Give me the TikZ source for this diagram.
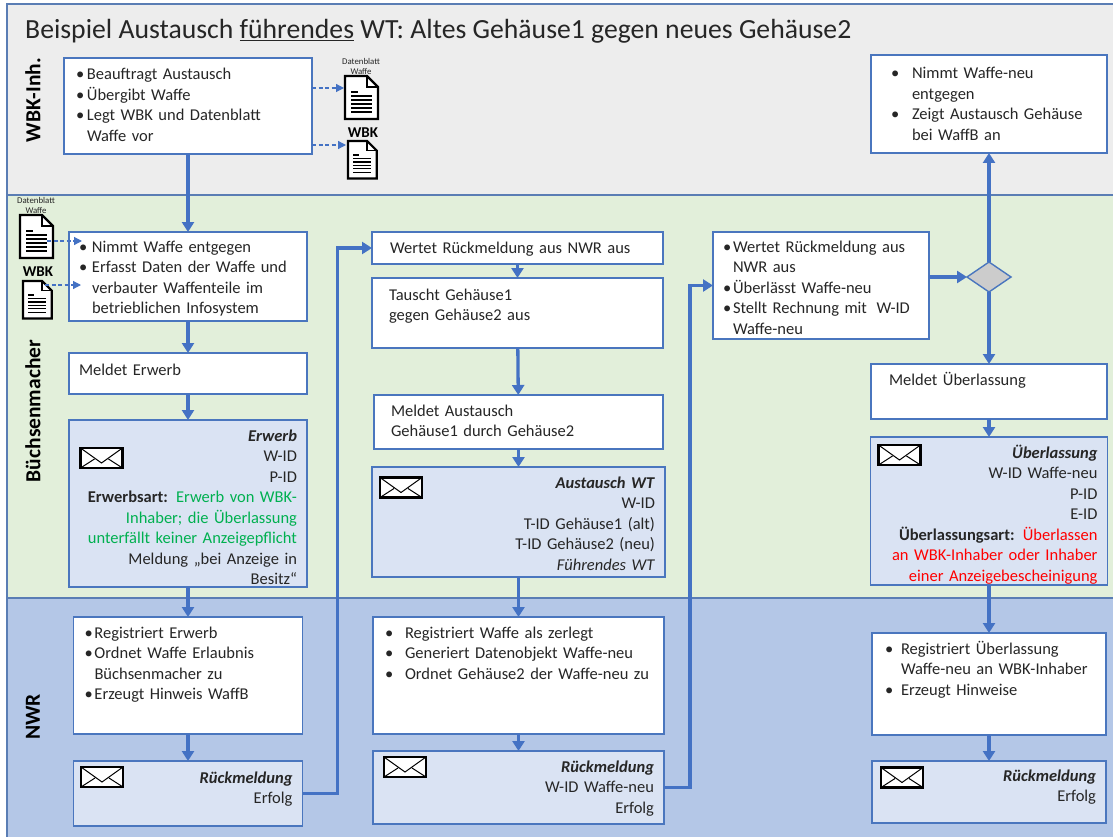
\documentclass[tikz,border=0pt]{standalone}
\usepackage{fontspec}
\setmainfont{Carlito}
\usetikzlibrary{positioning}
\usetikzlibrary{shapes.geometric}
\usetikzlibrary{arrows.meta}

\definecolor{laneline}{HTML}{5A7DB4}
\definecolor{boxline}{HTML}{4A76BE}
\definecolor{flowblue}{HTML}{4472C4}
\definecolor{lanegrey}{HTML}{EDEDED}
\definecolor{lanegreen}{HTML}{E2EFDA}
\definecolor{laneblue}{HTML}{B4C7E7}
\definecolor{msgblue}{HTML}{DAE3F3}
\definecolor{inktext}{HTML}{262626}
\definecolor{artgreen}{HTML}{00B050}

\newcommand{\bfirst}[1][10pt]{\hangindent=#1\hangafter=1\noindent\makebox[#1][l]{\textbullet}}
\newcommand{\bnext}[1][10pt]{\par\bfirst[#1]}

\tikzset{
    lane/.style={draw=laneline, line width=1.2pt},
    lanetitle/.style={rotate=90, text=black, font=\fontsize{21.5}{26}\selectfont\bfseries},
    flow/.style n args={4}{draw=boxline, line width=1.4pt, fill=white, outer sep=0pt, inner ysep=0pt,
        inner xsep=#3, text width={#1-2*#3}, text height=#4, text depth={#2-#4}, align=left,
        text=inktext, font=\fontsize{16.5}{20.5}\selectfont},
    msg/.style n args={3}{flow={#1}{#2}{10pt}{#3}, fill=msgblue, align=right},
    flowline/.style={draw=flowblue, line width=3.3pt, -{Triangle[width=12pt,length=10pt]}},
    docline/.style={draw=flowblue, line width=1.2pt, dash pattern=on 4pt off 2.5pt, -{Triangle[width=8pt,length=8pt]}},
    envelope/.style={draw=black, line width=2.2pt, fill=white, minimum width=42pt, minimum height=20pt, inner sep=0pt,
        path picture={
            \draw[black, line width=1pt] (path picture bounding box.north west) -- ([yshift=-5pt]path picture bounding box.center) -- (path picture bounding box.north east);
            \draw[black, line width=1pt] (path picture bounding box.south west) -- ([xshift=-7pt,yshift=-1pt]path picture bounding box.center);
            \draw[black, line width=1pt] (path picture bounding box.south east) -- ([xshift=7pt,yshift=-1pt]path picture bounding box.center);
        }},
    docicon/.pic={
        \draw[black, line width=2.2pt, fill=white, line join=miter] (0,0) -- (22,0) -- (33,11) -- (33,43) -- (0,43) -- cycle;
        \draw[black, line width=1.4pt] (22,0) -- (22,11) -- (33,11);
        \draw[black, line width=1.3pt] (6,16) -- (13,16);
        \foreach \docy in {20,24,28,32,36} {
            \draw[black, line width=1.3pt] (6,\docy) -- (27,\docy);
        }
    },
}

\begin{document}
\begin{tikzpicture}[x=1pt, y=-1pt]

    \useasboundingbox (0,0) rectangle (1113,837);
    \clip (0,0) rectangle (1113,837);

    % swim lanes
    \draw[lane, fill=lanegrey] (7,4) rectangle (1120,195);
    \draw[lane, fill=lanegreen] (7,195) rectangle (1120,598);
    \draw[lane, fill=laneblue] (7,598) rectangle (1120,845);
    \node[anchor=base west, inner sep=0pt, text=inktext, font=\fontsize{27.7}{30}\selectfont] (title) at (25,39)
        {Beispiel Austausch \underline{führendes} WT: Altes Gehäuse1 gegen neues Gehäuse2};
    \node[lanetitle] (lane-wbk) at (33,100) {WBK-Inh.};
    \node[lanetitle] (lane-bm) at (33,411) {Büchsenmacher};
    \node[lanetitle] (lane-nwr) at (33,717) {NWR};


    % first column
    \node[flow={248pt}{96pt}{12pt}{22pt}] (beauftragt) at (188,106)
        {\bfirst[11pt]Beauftragt Austausch
         \bnext[11pt]Übergibt Waffe
         \bnext[11pt]Legt WBK und Datenblatt\newline Waffe vor\par};
    \node[flow={238pt}{89pt}{10pt}{20pt}, below=78pt of beauftragt] (nimmt)
        {\bfirst[13pt]Nimmt Waffe entgegen
         \bnext[13pt]Erfasst Daten der Waffe und\newline verbauter Waffenteile im\newline betrieblichen Infosystem\par};
    \node[flow={238pt}{41pt}{10pt}{22pt}, below=32pt of nimmt] (meldeterwerb) {Meldet Erwerb};
    \node[msg={238pt}{167pt}{21pt}, below=26pt of meldeterwerb] (erwerb)
        {\textbf{\textit{Erwerb}}\\W-ID\\P-ID\\
         \textbf{Erwerbsart:} \textcolor{artgreen}{Erwerb von WBK-}\\
         \textcolor{artgreen}{Inhaber; die Überlassung}\\
         \textcolor{artgreen}{unterfällt keiner Anzeigepflicht}\\
         Meldung „bei Anzeige in\\Besitz“};
    \node[flow={229pt}{117pt}{11pt}{21pt}, below=30pt of erwerb] (regerwerb)
        {\bfirst[10pt]Registriert Erwerb
         \bnext[10pt]Ordnet Waffe Erlaubnis\newline Büchsenmacher zu
         \bnext[10pt]Erzeugt Hinweis WaffB\par};
    \node[msg={229pt}{65pt}{22pt}, below=27pt of regerwerb] (rueckerwerb)
        {\textbf{\textit{Rückmeldung}}\\Erfolg};

    \node[envelope] (env-erwerb) at (101.5,458) {};
    \node[envelope] (env-rueckerwerb) at (102,777) {};


    % second column
    \node[flow={291pt}{32pt}{18pt}{21pt}] (wertetnwr) at (517.5,248) {Wertet Rückmeldung aus NWR aus};
    \node[flow={291pt}{70pt}{17pt}{22pt}, below=14pt of wertetnwr] (tauscht)
        {Tauscht Gehäuse1\\gegen Gehäuse2 aus};
    \node[flow={289pt}{54pt}{17pt}{21pt}, below=47pt of tauscht, xshift=1pt] (meldetaus)
        {Meldet Austausch\\Gehäuse1 durch Gehäuse2};
    \node[msg={293pt}{110pt}{21pt}, below=18pt of meldetaus] (austausch)
        {\textbf{\textit{Austausch WT}}\\W-ID\\T-ID Gehäuse1 (alt)\\T-ID Gehäuse2 (neu)\\\textit{Führendes WT}};
    \node[flow={291pt}{117pt}{12pt}{21pt}, below=40pt of austausch] (regwaffe)
        {\bfirst[20pt]Registriert Waffe als zerlegt
         \bnext[20pt]Generiert Datenobjekt Waffe-neu
         \bnext[20pt]Ordnet Gehäuse2 der Waffe-neu zu\par};
    \node[msg={291pt}{73pt}{21pt}, below=17pt of regwaffe] (rueckwaffe)
        {\textbf{\textit{Rückmeldung}}\\W-ID Waffe-neu\\Erfolg};

    \node[envelope] (env-austausch) at (401,487.5) {};
    \node[envelope] (env-rueckwaffe) at (405,767) {};


    % third column
    \node[flow={216pt}{107pt}{10pt}{20pt}] (wertetneu) at (821,285.5)
        {\bfirst[10pt]Wertet Rückmeldung aus\newline NWR aus
         \bnext[10pt]Überlässt Waffe-neu
         \bnext[10pt]Stellt Rechnung mit\hspace{4pt} W-ID\newline Waffe-neu\par};


    % fourth column
    \node[flow={236pt}{98pt}{20pt}{24pt}] (nimmtneu) at (989,104)
        {\bfirst[21pt]Nimmt Waffe-neu\newline entgegen
         \bnext[21pt]Zeigt Austausch Gehäuse\newline bei WaffB an\par};
    \node[diamond, draw=boxline, line width=1.4pt, fill=black!20, minimum width=44pt, minimum height=30pt, inner sep=0pt, outer sep=0pt] (abfrage) at (989,277) {};
    \node[flow={236pt}{55pt}{18pt}{21pt}] (meldetueber) at (989,391.5) {Meldet Überlassung};
    \node[msg={237pt}{148pt}{21pt}, below=18pt of meldetueber] (ueberlassung)
        {\textbf{\textit{Überlassung}}\\W-ID Waffe-neu\\P-ID\\E-ID\\
         \textbf{Überlassungsart:} \textcolor{red}{Überlassen}\\
         \textcolor{red}{an WBK-Inhaber oder Inhaber}\\
         \textcolor{red}{einer Anzeigebescheinigung}};
    \node[flow={234pt}{102pt}{13pt}{21pt}, below=48pt of ueberlassung] (regueber)
        {\bfirst[16pt]Registriert Überlassung\newline Waffe-neu an WBK-Inhaber
         \bnext[16pt]Erzeugt Hinweise\par};
    \node[msg={234pt}{62pt}{20pt}, below=26pt of regueber] (rueckueber)
        {\textbf{\textit{Rückmeldung}}\\Erfolg};

    \node[envelope] (env-ueberlassung) at (899.5,455) {};
    \node[envelope] (env-rueckueber) at (902,777.5) {};


    % flow
    \draw[flowline] (beauftragt) -- (nimmt);
    \draw[flowline] (nimmt) -- (meldeterwerb);
    \draw[flowline] (meldeterwerb) -- (erwerb);
    \draw[flowline] (erwerb) -- (regerwerb);
    \draw[flowline] (regerwerb) -- (rueckerwerb);
    \draw[flowline] (rueckerwerb.east) -- ++(35,0) |- (wertetnwr.west);
    \draw[flowline] (wertetnwr) -- (tauscht);
    \draw[flowline] (tauscht) -- (meldetaus);
    \draw[flowline] (meldetaus) -- (austausch);
    \draw[flowline] (austausch) -- (regwaffe);
    \draw[flowline] (regwaffe) -- (rueckwaffe);
    \draw[flowline] (rueckwaffe.east) -- ++(26,0) |- (wertetneu.west);
    \draw[flowline] (wertetneu.east |- abfrage) -- (abfrage.west);
    \draw[flowline] (abfrage.north) -- (nimmtneu.south);
    \draw[flowline] (abfrage.south) -- (meldetueber.north);
    \draw[flowline] (meldetueber) -- (ueberlassung);
    \draw[flowline] (ueberlassung) -- (regueber);
    \draw[flowline] (regueber) -- (rueckueber);


    % documents
    \pic (doc-daten) at (345,76) {docicon};
    \pic[scale=0.87] (doc-wbk) at (348,141) {docicon};
    \pic (doc-daten2) at (20,215) {docicon};
    \pic[scale=0.87] (doc-wbk2) at (23,281) {docicon};
    \node[align=center, inner sep=0pt, text=inktext, font=\fontsize{8.8}{10}\selectfont] (label-daten) at (361,66) {Datenblatt\\Waffe};
    \node[align=center, inner sep=0pt, text=inktext, font=\fontsize{8.8}{10}\selectfont] (label-daten2) at (36,205) {Datenblatt\\Waffe};
    \node[inner sep=0pt, text=black, font=\fontsize{15}{17}\selectfont\bfseries] (label-wbk) at (363,133) {WBK};
    \node[inner sep=0pt, text=black, font=\fontsize{15}{17}\selectfont\bfseries] (label-wbk2) at (38,272) {WBK};

    \coordinate (daten-in) at (344,88);
    \coordinate (wbk-in) at (346,145);
    \coordinate (daten-out) at (47,241);
    \coordinate (daten-end) at (82,241);
    \coordinate (wbk-out) at (45,285);
    \coordinate (wbk-end) at (81,285);
    \draw[docline] (beauftragt.east |- daten-in) -- (daten-in);
    \draw[docline] (beauftragt.east |- wbk-in) -- (wbk-in);
    \draw[docline] (daten-out) -- (daten-end);
    \draw[docline] (wbk-out) -- (wbk-end);

\end{tikzpicture}
\end{document}
